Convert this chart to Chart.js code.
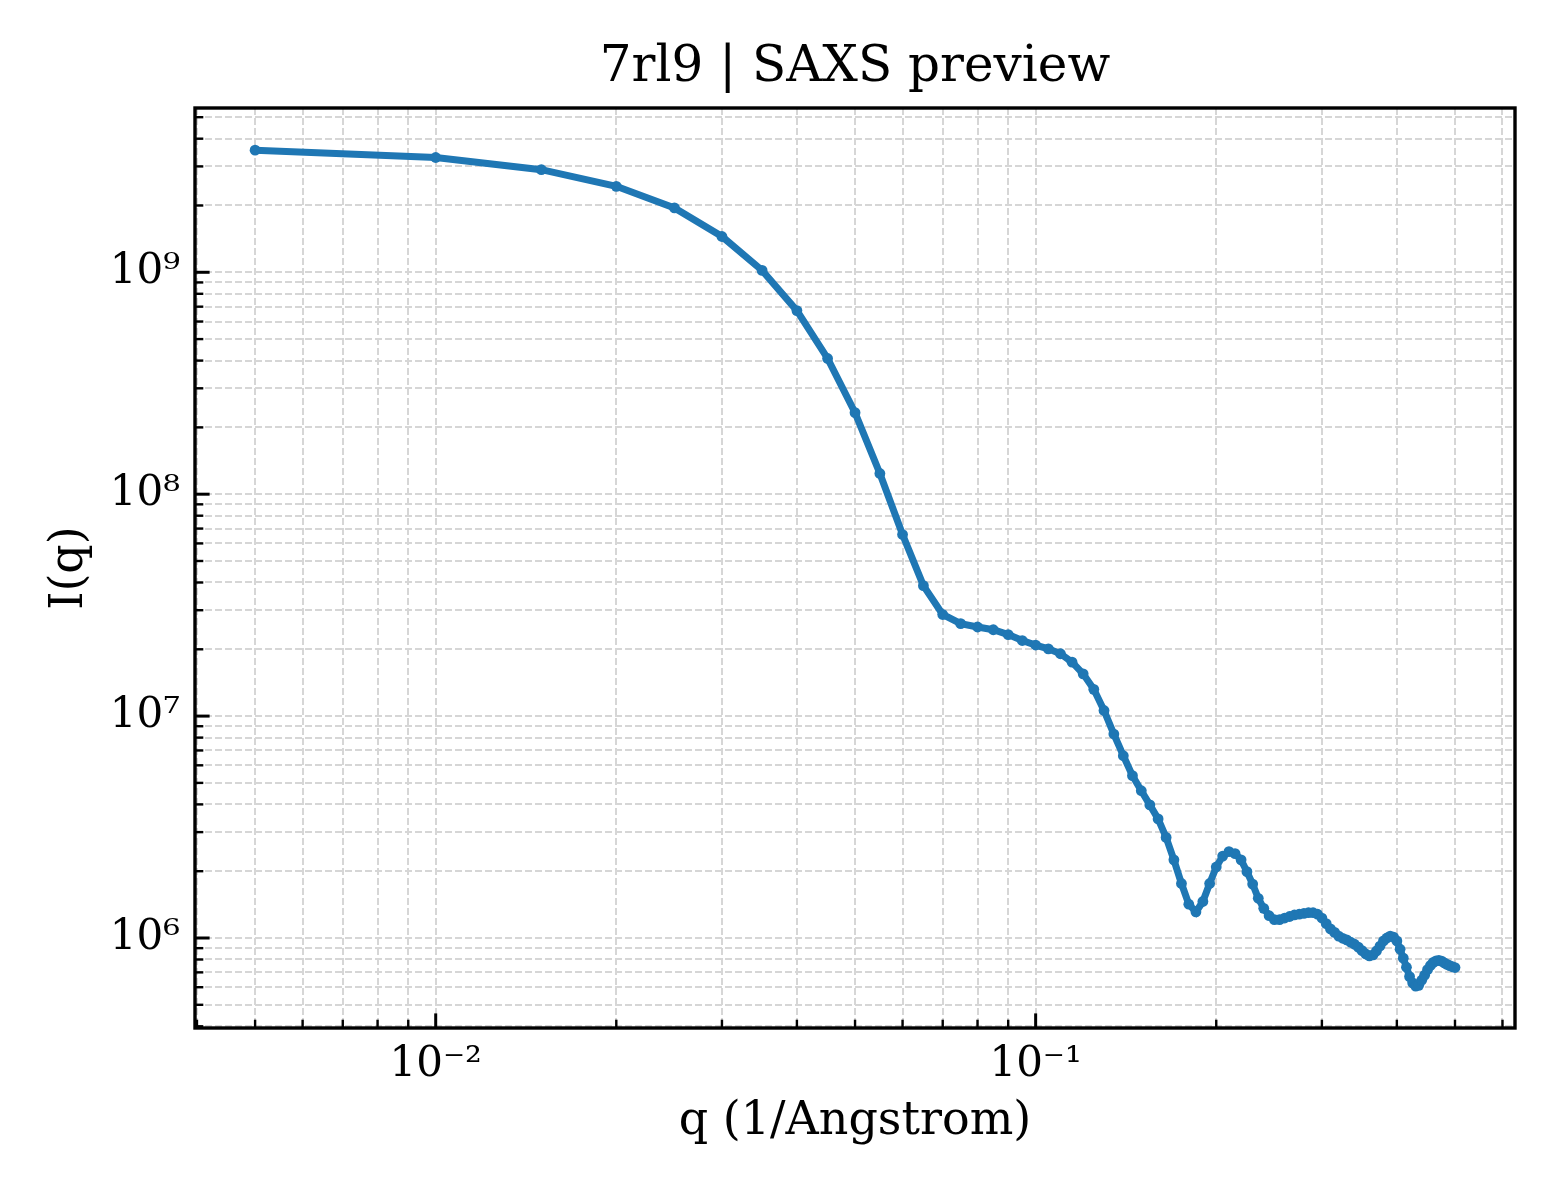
<!DOCTYPE html>
<html>
<head>
<meta charset="utf-8">
<title>7rl9 | SAXS preview</title>
<script src="https://cdn.jsdelivr.net/npm/chart.js@4.4.1/dist/chart.umd.min.js"></script>
<style>
  html, body { margin: 0; padding: 0; background: #fff; }
  canvas { display: block; }
</style>
</head>
<body>
<canvas id="saxsChart" width="1560" height="1200"></canvas>
<script>
// Dados
const qValues = [
  0.005, 0.010, 0.015, 0.020, 0.025, 0.030, 0.035, 0.040, 0.045, 0.050,
  0.055, 0.060, 0.065, 0.070, 0.075, 0.080, 0.085, 0.090, 0.095, 0.100,
  0.105, 0.110, 0.115, 0.120, 0.125, 0.130, 0.135, 0.140, 0.145, 0.150,
  0.155, 0.160, 0.165, 0.170, 0.175, 0.180, 0.185, 0.190, 0.195, 0.200,
  0.205, 0.210, 0.215, 0.220, 0.225, 0.230, 0.235, 0.240, 0.245, 0.250,
  0.255, 0.260, 0.265, 0.270, 0.275, 0.280, 0.285, 0.290, 0.295, 0.300,
  0.305, 0.310, 0.315, 0.320, 0.325, 0.330, 0.335, 0.340, 0.345, 0.350,
  0.355, 0.360, 0.365, 0.370, 0.375, 0.380, 0.385, 0.390, 0.395, 0.400,
  0.405, 0.410, 0.415, 0.420, 0.425, 0.430, 0.435, 0.440, 0.445, 0.450,
  0.455, 0.460, 0.465, 0.470, 0.475, 0.480, 0.485, 0.490, 0.495, 0.500
];

const intensity = [
  3.55e9, 3.29e9, 2.90e9, 2.44e9, 1.95e9, 1.45e9, 1.02e9, 6.72e8, 4.09e8, 2.33e8,
  1.24e8, 6.58e7, 3.87e7, 2.87e7, 2.61e7, 2.52e7, 2.45e7, 2.33e7, 2.19e7, 2.09e7,
  2.01e7, 1.91e7, 1.75e7, 1.55e7, 1.32e7, 1.06e7, 8.30e6, 6.63e6, 5.39e6, 4.61e6,
  3.98e6, 3.44e6, 2.84e6, 2.25e6, 1.76e6, 1.42e6, 1.31e6, 1.46e6, 1.76e6, 2.09e6,
  2.34e6, 2.45e6, 2.40e6, 2.25e6, 1.99e6, 1.75e6, 1.51e6, 1.36e6, 1.26e6, 1.21e6,
  1.21e6, 1.23e6, 1.25e6, 1.27e6, 1.28e6, 1.29e6, 1.30e6, 1.30e6, 1.28e6, 1.23e6,
  1.16e6, 1.10e6, 1.06e6, 1.02e6, 9.97e5, 9.80e5, 9.57e5, 9.37e5, 9.09e5, 8.77e5,
  8.47e5, 8.30e5, 8.39e5, 8.75e5, 9.20e5, 9.70e5, 1.00e6, 1.02e6, 1.01e6, 9.70e5,
  8.90e5, 8.11e5, 7.38e5, 6.70e5, 6.28e5, 6.07e5, 6.12e5, 6.45e5, 6.80e5, 7.20e5,
  7.52e5, 7.76e5, 7.89e5, 7.92e5, 7.87e5, 7.73e5, 7.60e5, 7.50e5, 7.42e5, 7.36e5
];

// Limites dos eixos (com a margem de 5% em escala log)
const xRange = [0.00397, 0.6295];
const yRange = [3.93e5, 5.5e9];

const FONT = "'DejaVu Serif', 'Liberation Serif', serif";
const LINE_COLOR = '#1f77b4';

// Área do gráfico (px no canvas)
const AREA = { left: 195, right: 1515, top: 108, bottom: 1028 };

const SUPERSCRIPT = {
  '-': '\u207B', '0': '\u2070', '1': '\u00B9', '2': '\u00B2', '3': '\u00B3',
  '4': '\u2074', '5': '\u2075', '6': '\u2076', '7': '\u2077', '8': '\u2078', '9': '\u2079'
};

// Ticks de década (maiores) e 2..9 (menores)
function logTicks(min, max) {
  const ticks = [];
  const e0 = Math.floor(Math.log10(min));
  const e1 = Math.ceil(Math.log10(max));
  for (let e = e0; e <= e1; e++) {
    for (let m = 1; m < 10; m++) {
      const v = m * Math.pow(10, e);
      if (v >= min && v <= max) ticks.push({ value: v, major: m === 1 });
    }
  }
  return ticks;
}

function powerLabel(value) {
  const exp = String(Math.round(Math.log10(value)));
  return '10' + exp.split('').map(c => SUPERSCRIPT[c]).join('');
}

function tickLabel(value, index, ticks) {
  return ticks[index] && ticks[index].major ? powerLabel(value) : '';
}

// Ticks para dentro + moldura, no estilo matplotlib
const frameTicks = {
  id: 'frameTicks',
  afterDraw(chart) {
    const { ctx, chartArea: a } = chart;
    const xs = chart.scales.x;
    const ys = chart.scales.y;
    ctx.save();
    ctx.strokeStyle = '#000';
    xs.ticks.forEach(t => {
      const px = xs.getPixelForValue(t.value);
      if (px < a.left - 0.5 || px > a.right + 0.5) return;
      ctx.lineWidth = t.major ? 3 : 2.4;
      ctx.beginPath();
      ctx.moveTo(px, a.bottom);
      ctx.lineTo(px, a.bottom - (t.major ? 14.6 : 8.3));
      ctx.stroke();
    });
    ys.ticks.forEach(t => {
      const py = ys.getPixelForValue(t.value);
      if (py < a.top - 0.5 || py > a.bottom + 0.5) return;
      ctx.lineWidth = t.major ? 3 : 2.4;
      ctx.beginPath();
      ctx.moveTo(a.left, py);
      ctx.lineTo(a.left + (t.major ? 14.6 : 8.3), py);
      ctx.stroke();
    });
    ctx.lineWidth = 3.4;
    ctx.strokeRect(a.left, a.top, a.right - a.left, a.bottom - a.top);
    ctx.restore();
  }
};

const gridOptions = {
  color: '#d6d6d6',
  lineWidth: 2,
  drawTicks: false
};

new Chart(document.getElementById('saxsChart'), {
  type: 'line',
  data: {
    datasets: [{
      label: 'I(q)',
      data: qValues.map((q, i) => ({ x: q, y: intensity[i] })),
      borderColor: LINE_COLOR,
      backgroundColor: LINE_COLOR,
      borderWidth: 7,
      pointRadius: 5.4,
      pointBorderWidth: 0,
      pointBackgroundColor: LINE_COLOR,
      tension: 0,
      fill: false
    }]
  },
  options: {
    responsive: false,
    devicePixelRatio: 1,
    animation: false,
    layout: {
      padding: { left: 0, right: 1560 - AREA.right, top: 0, bottom: 0 }
    },
    plugins: {
      legend: { display: false },
      tooltip: { enabled: false },
      title: {
        display: true,
        fullSize: false,
        text: '7rl9 | SAXS preview',
        color: '#000',
        font: { family: FONT, size: 50, weight: 'normal', lineHeight: 1.2 },
        padding: { top: 38, bottom: 10 }
      }
    },
    scales: {
      x: {
        type: 'logarithmic',
        min: xRange[0],
        max: xRange[1],
        afterBuildTicks: scale => { scale.ticks = logTicks(xRange[0], xRange[1]); },
        afterFit: scale => { scale.height = 1200 - AREA.bottom; },
        grid: gridOptions,
        border: { display: false, dash: [7, 3] },
        ticks: {
          autoSkip: false,
          maxRotation: 0,
          padding: 12,
          color: '#000',
          font: { family: FONT, size: 42 },
          callback: tickLabel
        },
        title: {
          display: true,
          text: 'q (1/Angstrom)',
          color: '#000',
          font: { family: FONT, size: 46, lineHeight: 1.2 },
          padding: { top: 0, bottom: 50 }
        }
      },
      y: {
        type: 'logarithmic',
        min: yRange[0],
        max: yRange[1],
        afterBuildTicks: scale => { scale.ticks = logTicks(yRange[0], yRange[1]); },
        afterFit: scale => { scale.width = AREA.left; },
        grid: gridOptions,
        border: { display: false, dash: [7, 3] },
        ticks: {
          autoSkip: false,
          padding: 15,
          color: '#000',
          font: { family: FONT, size: 42 },
          callback: tickLabel
        },
        title: {
          display: true,
          text: 'I(q)',
          color: '#000',
          font: { family: FONT, size: 46, lineHeight: 1.2 },
          padding: { top: 42, bottom: 0 }
        }
      }
    }
  },
  plugins: [frameTicks]
});
</script>
</body>
</html>
